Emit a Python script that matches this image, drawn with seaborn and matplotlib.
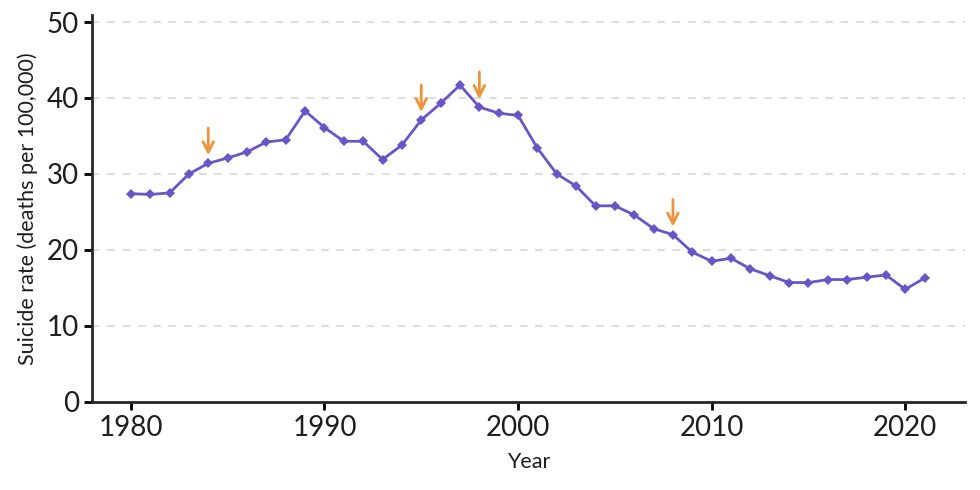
import matplotlib
matplotlib.use("Agg")
import matplotlib.pyplot as plt
import seaborn as sns
import pandas as pd

years = list(range(1980, 2022))
rates = [27.4, 27.3, 27.5, 30.0, 31.4, 32.1, 32.9, 34.2, 34.5, 38.3,
         36.1, 34.3, 34.3, 31.9, 33.8, 37.1, 39.3, 41.7, 38.8, 38.0,
         37.7, 33.4, 30.0, 28.4, 25.8, 25.8, 24.6, 22.8, 22.0, 19.7,
         18.5, 18.9, 17.5, 16.6, 15.7, 15.7, 16.1, 16.1, 16.4, 16.7,
         14.8, 16.3]
arrow_years = [1984, 1995, 1998, 2008]
yticks = [0, 10, 20, 30, 40, 50]
xticks = [1980, 1990, 2000, 2010, 2020]

df = pd.DataFrame({"Year": years, "Rate": rates})

sns.set_style("ticks")
plt.rcParams["font.family"] = ["Lato", "DejaVu Sans"]

fig = plt.figure(figsize=(9.8, 4.9), dpi=100)
ax = fig.add_axes([0.094, 0.18, 0.891, 0.789])

for t in yticks[1:]:
    ax.axhline(t, color="#d5d5d5", lw=1.1, ls=(0, (5, 5)), zorder=0)

sns.lineplot(data=df, x="Year", y="Rate", ax=ax, color="#6a55c8", lw=2,
             marker="D", markersize=5, markeredgewidth=0)

for yr in arrow_years:
    v = rates[years.index(yr)]
    ax.annotate("", xy=(yr, v + 0.7), xytext=(yr, v + 5.0),
                arrowprops=dict(arrowstyle="->,head_length=0.75,head_width=0.38",
                                color="#f0923a", lw=2))

ax.set_xlim(1978, 2023.1)
ax.set_ylim(0, 50.9)
ax.set_xticks(xticks)
ax.set_yticks(yticks)
ax.tick_params(axis="both", labelsize=20, width=2, length=6, color="black",
               labelcolor="#1e1e1e")
ax.set_xlabel("Year", fontsize=15.5, color="#1e1e1e", labelpad=8)
ax.set_ylabel("Suicide rate (deaths per 100,000)", fontsize=15.5, color="#1e1e1e", labelpad=6)
for s in ["left", "bottom"]:
    ax.spines[s].set_linewidth(2)
for s in ["top", "right"]:
    ax.spines[s].set_visible(False)

fig.savefig("out.png", dpi=100)
